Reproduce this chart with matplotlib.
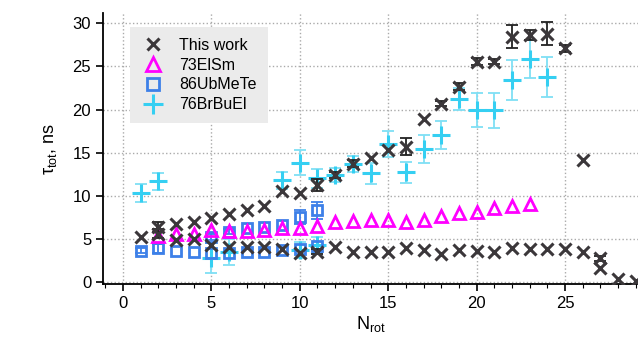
import matplotlib.pyplot as plt
import numpy as np
from matplotlib.ticker import MultipleLocator

plt.rcParams['font.family'] = ['Liberation Sans', 'DejaVu Sans']
plt.rcParams['mathtext.fontset'] = 'custom'
plt.rcParams['mathtext.rm'] = 'Liberation Sans'

# This work - upper branch
tw_up_n = [1, 2, 3, 4, 5, 6, 7, 8, 9, 10, 11, 12, 13, 14, 15, 16, 17, 18, 19, 20,
           21, 22, 23, 24, 25, 26, 27, 28, 29]
tw_up_v = [5.25, 6.4, 6.7, 6.9, 7.4, 7.9, 8.35, 8.75, 10.6, 10.35, 11.25, 12.4, 13.7, 14.35,
           15.3, 15.7, 18.9, 20.65, 22.65, 25.55, 25.55, 28.45, 28.65, 28.8, 27.1, 14.15,
           2.75, 0.3, 0.15]
tw_up_e = [0, 0.6, 0, 0, 0, 0, 0, 0, 0, 0, 0.7, 0.4, 0.4, 0, 0, 1.0, 0, 0.3, 0.4, 0.4,
           0.3, 1.3, 0.6, 1.3, 0.4, 0, 0.3, 0, 0]
# This work - lower branch
tw_lo_n = [2, 3, 4, 5, 6, 7, 8, 9, 10, 11, 12, 13, 14, 15, 16, 17, 18, 19, 20, 21,
           22, 23, 24, 25, 26, 27]
tw_lo_v = [5.6, 4.9, 4.95, 4.3, 4.0, 4.0, 4.0, 3.8, 3.3, 3.5, 4.0, 3.5, 3.5, 3.5, 3.9,
           3.7, 3.25, 3.65, 3.55, 3.45, 3.9, 3.8, 3.8, 3.8, 3.45, 1.6]
tw_lo_e = [0.5, 0, 0, 0, 0, 0, 0, 0, 0, 0.3, 0, 0, 0, 0, 0, 0, 0, 0, 0, 0,
           0, 0, 0, 0, 0, 0]

# 73ElSm
el_n = list(range(2, 24))
el_v = [5.35, 5.55, 5.6, 6.0, 5.95, 5.95, 6.0, 6.2, 6.3, 6.5, 7.0, 7.1, 7.2, 7.2, 6.9,
        7.2, 7.6, 7.95, 8.05, 8.55, 8.75, 9.05]

# 86UbMeTe
ub_n = [1, 2, 3, 4, 5, 6, 7, 8, 9, 10, 11, 5, 6, 7, 8, 9, 10, 11]
ub_v = [3.6, 3.9, 3.6, 3.5, 3.4, 3.4, 3.5, 3.5, 3.7, 3.8, 4.2,
        5.2, 5.8, 6.3, 6.4, 6.6, 7.5, 8.3]
ub_e = [0.3, 0.5, 0, 0, 0, 0, 0, 0, 0, 0, 0, 0.3, 0.3, 0, 0, 0, 0.8, 1.0]

# 76BrBuEl
br_n = [1, 2, 5, 6, 9, 10, 10, 11, 11, 12, 13, 14, 15, 16, 17, 18, 19, 20, 21, 22, 23, 24]
br_v = [10.3, 11.65, 2.75, 3.5, 11.8, 13.85, 3.7, 12.0, 4.3, 12.4, 13.7, 12.6, 16.0, 12.7,
        15.4, 17.05, 21.2, 19.95, 19.9, 23.45, 25.85, 23.8]
br_e = [1.0, 1.0, 1.75, 1.5, 1.0, 1.4, 0.9, 1.1, 0.9, 0.8, 0.9, 1.2, 1.5, 1.2, 1.6, 1.6,
        1.3, 2.0, 2.0, 2.3, 2.2, 2.35]

c_tw = '#3b373a'
c_el = '#ff00ff'
c_ub = '#3d80e8'
c_br = '#35cff2'

fig = plt.figure(figsize=(6.38, 3.43), dpi=100)
ax = fig.add_axes([103 / 638, 59 / 343, 535 / 638, 271 / 343])


def errs(n, v, e, color, z):
    n, v, e = np.array(n), np.array(v), np.array(e)
    m = e > 0
    ax.errorbar(n[m], v[m], yerr=e[m], fmt='none', ecolor=color, elinewidth=1.3,
                capsize=4, capthick=1.3, zorder=z)


errs(br_n, br_v, br_e, '#7fdff5', 2)
ax.plot(br_n, br_v, '+', color=c_br, ms=13, mew=2.2, ls='none', zorder=3, label='76BrBuEl')
errs(ub_n, ub_v, ub_e, c_ub, 3)
ax.plot(ub_n, ub_v, 's', color=c_ub, mfc='none', ms=7, mew=2, ls='none', zorder=3,
        label='86UbMeTe')
ax.plot(el_n, el_v, '^', color=c_el, mfc='none', ms=9, mew=2, ls='none', zorder=3,
        label='73ElSm')
errs(tw_up_n, tw_up_v, tw_up_e, '#222222', 4)
errs(tw_lo_n, tw_lo_v, tw_lo_e, '#222222', 4)
ax.plot(tw_up_n, tw_up_v, 'x', color=c_tw, ms=8, mew=2.2, ls='none', zorder=5,
        label='This work')
ax.plot(tw_lo_n, tw_lo_v, 'x', color=c_tw, ms=8, mew=2.2, ls='none', zorder=5)

ax.set_xlim(-1.12, 29.12)
ax.set_ylim(-0.25, 31.2)
ax.xaxis.set_major_locator(MultipleLocator(5))
ax.xaxis.set_minor_locator(MultipleLocator(1))
ax.yaxis.set_major_locator(MultipleLocator(5))
ax.tick_params(axis='both', which='major', direction='out', length=5, width=1.2,
               labelsize=12, colors='black')
ax.tick_params(axis='x', which='minor', direction='out', length=3, width=0.8)
ax.grid(True, which='major', ls=':', color='#aaaaaa', lw=1, zorder=0)
ax.set_axisbelow(True)
for s in ['top', 'right']:
    ax.spines[s].set_visible(False)
for s in ['left', 'bottom']:
    ax.spines[s].set_linewidth(1.3)

ax.set_xlabel(r'N$_{\mathrm{rot}}$', fontsize=13, labelpad=2)
ax.set_ylabel(r'τ$_{\mathrm{tot}}$, ns', fontsize=13, labelpad=10)

h, l = ax.get_legend_handles_labels()
order = [3, 2, 1, 0]
leg = ax.legend([h[i] for i in order], [l[i] for i in order], loc='upper left',
                bbox_to_anchor=(0.05, 0.95), borderaxespad=0, fontsize=11.5,
                facecolor='#ebebeb', edgecolor='none', framealpha=1, fancybox=False,
                handlelength=1.5, handletextpad=0.9, labelspacing=0.3, borderpad=0.7,
                markerscale=1.15)

fig.savefig('out.png', dpi=100)
